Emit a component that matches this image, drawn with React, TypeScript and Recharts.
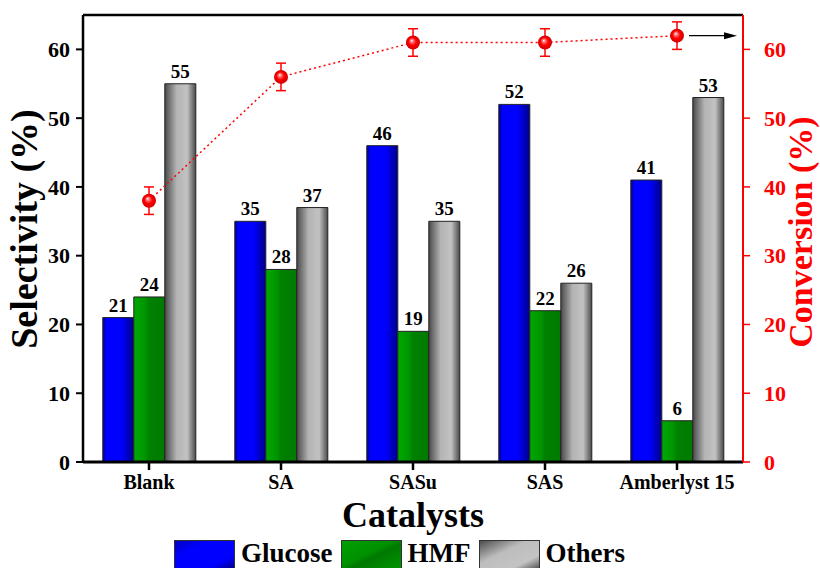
import React from "react";
import {
  ComposedChart,
  Bar,
  Line,
  XAxis,
  YAxis,
  Legend,
  LabelList,
  ErrorBar,
  ReferenceLine,
  Label,
} from "recharts";

const catalysts = ["Blank", "SA", "SASu", "SAS", "Amberlyst 15"];
const glucose = [21, 35, 46, 52, 41];
const hmf = [24, 28, 19, 22, 6];
const others = [55, 37, 35, 26, 53];
const conversion = [38, 56, 61, 61, 62];
const conversionErr = [2, 2, 2, 2, 2];
const leftTicks = [0, 10, 20, 30, 40, 50, 60];
const rightTicks = [0, 10, 20, 30, 40, 50, 60];

const data = catalysts.map((c, i) => ({
  name: c,
  glucose: glucose[i],
  hmf: hmf[i],
  others: others[i],
  conversion: conversion[i],
  err: conversionErr[i],
}));

const FONT = "'Liberation Serif', 'Times New Roman', serif";

const Defs = () => (
  <svg width={0} height={0} style={{ position: "absolute" }}>
    <defs>
      <linearGradient id="gBlue" x1="0" y1="0" x2="1" y2="0">
        <stop offset="0" stopColor="#000090" />
        <stop offset="0.12" stopColor="#0000ff" />
        <stop offset="0.6" stopColor="#0000ff" />
        <stop offset="1" stopColor="#000088" />
      </linearGradient>
      <linearGradient id="gGreen" x1="0" y1="0" x2="1" y2="0">
        <stop offset="0" stopColor="#00a800" />
        <stop offset="0.35" stopColor="#009600" />
        <stop offset="0.5" stopColor="#008000" />
        <stop offset="1" stopColor="#007a00" />
      </linearGradient>
      <linearGradient id="gGray" x1="0" y1="0" x2="1" y2="0">
        <stop offset="0" stopColor="#4a4a4a" />
        <stop offset="0.38" stopColor="#b4b4b4" />
        <stop offset="0.72" stopColor="#c2c2c2" />
        <stop offset="1" stopColor="#4a4a4a" />
      </linearGradient>
      <linearGradient id="lBlue" x1="0" y1="0" x2="1" y2="1">
        <stop offset="0" stopColor="#0000c0" />
        <stop offset="0.3" stopColor="#0000ff" />
        <stop offset="0.75" stopColor="#0000ff" />
        <stop offset="1" stopColor="#000080" />
      </linearGradient>
      <linearGradient id="lGreen" x1="0" y1="0" x2="1" y2="1">
        <stop offset="0" stopColor="#00a000" />
        <stop offset="0.45" stopColor="#009000" />
        <stop offset="0.55" stopColor="#007800" />
        <stop offset="1" stopColor="#009800" />
      </linearGradient>
      <linearGradient id="lGray" x1="0" y1="0" x2="1" y2="1">
        <stop offset="0" stopColor="#4a4a4a" />
        <stop offset="0.4" stopColor="#bdbdbd" />
        <stop offset="0.75" stopColor="#c4c4c4" />
        <stop offset="1" stopColor="#4a4a4a" />
      </linearGradient>
      <radialGradient id="ball" cx="0.5" cy="0.5" r="0.5" fx="0.4" fy="0.35">
        <stop offset="0" stopColor="#ffffff" />
        <stop offset="0.2" stopColor="#ff8080" />
        <stop offset="0.55" stopColor="#ff0000" />
        <stop offset="1" stopColor="#d00000" />
      </radialGradient>
    </defs>
  </svg>
);

const LeftTick = (props: any) => {
  const { x, y, payload } = props;
  return (
    <text x={x} y={y} dy="0.35em" textAnchor="end" fontFamily={FONT} fontWeight="bold" fontSize={22} fill="#000">
      {payload.value}
    </text>
  );
};

const RightTick = (props: any) => {
  const { x, y, payload } = props;
  return (
    <text x={x} y={y} dy="0.35em" textAnchor="start" fontFamily={FONT} fontWeight="bold" fontSize={22} fill="#ff0000">
      {payload.value}
    </text>
  );
};

const CatTick = (props: any) => {
  const { x, y, payload } = props;
  return (
    <text x={x} y={y + 17} textAnchor="middle" fontFamily={FONT} fontWeight="bold" fontSize={20} fill="#000">
      {payload.value}
    </text>
  );
};

const Ball = (props: any) => {
  const { cx, cy, index } = props;
  if (cx == null || cy == null) return null;
  const last = index === data.length - 1;
  return (
    <g key={`ball-${index}`}>
      <circle cx={cx} cy={cy} r={7} fill="url(#ball)" />
      {last && (
        <g>
          <line x1={cx + 12} y1={cy} x2={cx + 50} y2={cy} stroke="#000" strokeWidth={1.2} />
          <polygon points={`${cx + 60},${cy} ${cx + 47},${cy - 3.5} ${cx + 47},${cy + 3.5}`} fill="#000" />
        </g>
      )}
    </g>
  );
};

const legendItems = [
  { label: "Glucose", fill: "url(#lBlue)" },
  { label: "HMF", fill: "url(#lGreen)" },
  { label: "Others", fill: "url(#lGray)" },
];

const LegendContent = () => (
  <div
    style={{
      display: "flex",
      justifyContent: "center",
      alignItems: "flex-start",
      height: 30,
      fontFamily: FONT,
      fontWeight: "bold",
      fontSize: 27,
      lineHeight: "28px",
      color: "#000",
      marginLeft: -4,
    }}
  >
    {legendItems.map((it, i) => (
      <div
        key={it.label}
        style={{ display: "flex", alignItems: "flex-start", marginRight: i < legendItems.length - 1 ? 8 : 0 }}
      >
        <svg width={61} height={30} style={{ display: "block", marginTop: 2 }}>
          <rect x={0.5} y={0.5} width={60} height={29} fill={it.fill} stroke="#333" strokeWidth={1} />
        </svg>
        <span style={{ marginLeft: 6, marginTop: 1 }}>{it.label}</span>
      </div>
    ))}
  </div>
);

const YLeftTitle = () => {
  const cy = 229;
  const x = 37;
  return (
    <text
      x={x}
      y={cy}
      transform={`rotate(-90, ${x}, ${cy})`}
      textAnchor="middle"
      fontFamily={FONT}
      fontWeight="bold"
      fontSize={38}
      fill="#000"
    >
      Selectivity (%)
    </text>
  );
};

const YRightTitle = (props: any) => {
  const vb = props.viewBox || {};
  const x = (vb.x ?? 743) + (vb.width ?? 60) + 9;
  const cy = 232;
  return (
    <text
      x={x}
      y={cy}
      transform={`rotate(-90, ${x}, ${cy})`}
      textAnchor="middle"
      fontFamily={FONT}
      fontWeight="bold"
      fontSize={34}
      fill="#ff0000"
    >
      Conversion (%)
    </text>
  );
};

const XTitle = (props: any) => {
  const vb = props.viewBox || {};
  const cx = (vb.x ?? 83) + (vb.width ?? 660) / 2;
  const y = (vb.y ?? 462) + 65;
  return (
    <text x={cx} y={y} textAnchor="middle" fontFamily={FONT} fontWeight="bold" fontSize={36} fill="#000">
      Catalysts
    </text>
  );
};

const labelStyle = { fontFamily: FONT, fontWeight: "bold", fontSize: 19, fill: "#000" } as any;

export default function App() {
  return (
    <div style={{ width: 820, height: 568, position: "relative", background: "#fff" }}>
      <style>{"body{margin:0;overflow:hidden;background:#fff}"}</style>
      <Defs />
      <ComposedChart
        width={820}
        height={568}
        data={data}
        margin={{ top: 15, right: 17, bottom: 0, left: 0 }}
        barCategoryGap="15%"
        barGap={0}
      >
        <XAxis
          dataKey="name"
          height={76}
          tick={<CatTick />}
          tickSize={8}
          axisLine={{ stroke: "#000", strokeWidth: 3 }}
          tickLine={{ stroke: "#000", strokeWidth: 2.5 }}
        >
          <Label content={<XTitle />} />
        </XAxis>
        <YAxis
          yAxisId="left"
          domain={[0, 65]}
          ticks={leftTicks}
          width={83}
          tickSize={7}
          tickMargin={6}
          tick={<LeftTick />}
          axisLine={{ stroke: "#000", strokeWidth: 2.5 }}
          tickLine={{ stroke: "#000", strokeWidth: 2 }}
          allowDataOverflow
        >
          <Label content={<YLeftTitle />} />
        </YAxis>
        <YAxis
          yAxisId="right"
          orientation="right"
          domain={[0, 65]}
          ticks={rightTicks}
          width={60}
          tickSize={7}
          tickMargin={14}
          tick={<RightTick />}
          axisLine={{ stroke: "#ff0000", strokeWidth: 2 }}
          tickLine={{ stroke: "#ff0000", strokeWidth: 1.5 }}
          allowDataOverflow
        >
          <Label content={<YRightTitle />} />
        </YAxis>
        <ReferenceLine yAxisId="left" y={65} stroke="#000" strokeWidth={2.5} ifOverflow="extendDomain" />
        <Legend verticalAlign="bottom" align="center" height={30} content={<LegendContent />} />
        <Bar yAxisId="left" dataKey="glucose" name="Glucose" fill="url(#gBlue)" stroke="#222" strokeWidth={1} isAnimationActive={false}>
          <LabelList dataKey="glucose" position="top" offset={6} style={labelStyle} />
        </Bar>
        <Bar yAxisId="left" dataKey="hmf" name="HMF" fill="url(#gGreen)" stroke="#222" strokeWidth={1} isAnimationActive={false}>
          <LabelList dataKey="hmf" position="top" offset={6} style={labelStyle} />
        </Bar>
        <Bar yAxisId="left" dataKey="others" name="Others" fill="url(#gGray)" stroke="#222" strokeWidth={1} isAnimationActive={false}>
          <LabelList dataKey="others" position="top" offset={6} style={labelStyle} />
        </Bar>
        <Line
          yAxisId="right"
          dataKey="conversion"
          name="Conversion"
          stroke="#ff0000"
          strokeWidth={1.5}
          strokeDasharray="2 3"
          dot={<Ball />}
          activeDot={false}
          legendType="none"
          isAnimationActive={false}
        >
          <ErrorBar dataKey="err" width={5} stroke="#ff0000" strokeWidth={1.5} direction="y" />
        </Line>
      </ComposedChart>
    </div>
  );
}
